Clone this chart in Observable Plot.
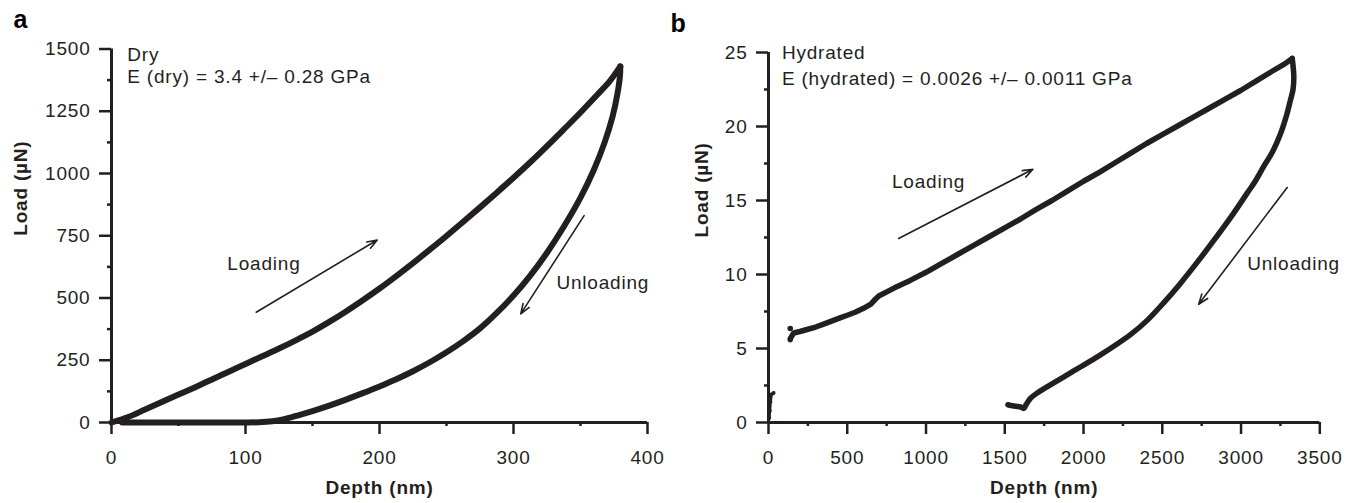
<!DOCTYPE html>
<html><head><meta charset="utf-8">
<script src="https://cdn.jsdelivr.net/npm/d3@7"></script>
<script src="https://cdn.jsdelivr.net/npm/@observablehq/plot@0.6"></script>
<style>
body{margin:0;background:#fff;}
#wrap{display:flex;width:1360px;height:503px;overflow:hidden;}
</style></head><body><div id="wrap"></div>
<script>
// ---------- Panel a: dry ----------
const dryLoadDepth  = [0, 12.5, 25, 37.5, 50, 62.5, 75, 87.5, 100, 112.5, 125, 137.5, 150, 162.5, 175, 187.5, 200, 212.5, 225, 237.5, 250, 262.5, 275, 287.5, 300, 312.5, 325, 337.5, 350, 362.5, 372, 379.7];
const dryLoadForce  = [0, 22, 52, 82, 112, 142, 173, 204, 235, 266, 297, 330, 365, 404, 446, 491, 538, 588, 640, 694, 749, 806, 864, 923, 983, 1045, 1110, 1177, 1245, 1316, 1372, 1430];
const dryUnloadDepth = [379.7, 379.5, 377.5, 374, 368, 360, 350, 337.5, 325, 312.5, 300, 287.5, 275, 262.5, 250, 237.5, 225, 212.5, 200, 187.5, 175, 162.5, 150, 140, 128, 120, 110, 100, 80, 50, 25, 8];
const dryUnloadForce = [1430, 1395, 1318, 1230, 1125, 1015, 903, 786, 682, 590, 510, 440, 378, 327, 282, 242, 206, 174, 145, 118, 92, 68, 46, 30, 12, 5, 1, 0, 0, 0, 0, 0];
const dryXTicks = [0, 100, 200, 300, 400];
const dryXMinor = [50, 150, 250, 350];
const dryYTicks = [0, 250, 500, 750, 1000, 1250, 1500];
const dryYMinor = [125, 375, 625, 875, 1125, 1375];

// ---------- Panel b: hydrated ----------
const hydStartDepth = [4, 8, 12, 18, 32];
const hydStartForce = [0.3, 0.8, 1.4, 1.9, 2.0];
const hydJumpDepth = [138, 138];
const hydJumpForce = [5.6, 6.35];
const hydLoadDepth = [140, 160, 200, 250, 300, 350, 400, 450, 500, 550, 600, 650, 680, 700, 800, 900, 1000, 1100, 1200, 1300, 1400, 1500, 1600, 1700, 1800, 1900, 2000, 2100, 2200, 2300, 2400, 2500, 2600, 2700, 2800, 2900, 3000, 3100, 3200, 3280, 3325];
const hydLoadForce = [5.7, 6.05, 6.15, 6.3, 6.45, 6.65, 6.85, 7.05, 7.25, 7.45, 7.7, 8.0, 8.35, 8.55, 9.1, 9.6, 10.15, 10.75, 11.35, 11.95, 12.55, 13.15, 13.75, 14.4, 15.0, 15.65, 16.3, 16.9, 17.55, 18.2, 18.85, 19.45, 20.05, 20.65, 21.25, 21.85, 22.45, 23.1, 23.75, 24.25, 24.6];
const hydUnloadDepth = [3325, 3335, 3330, 3314, 3290, 3250, 3200, 3144, 3090, 3039, 2950, 2827, 2720, 2615, 2510, 2404, 2300, 2192, 2090, 1980, 1870, 1768, 1700, 1660, 1630, 1620, 1600, 1570, 1540, 1520];
const hydUnloadForce = [24.6, 23.4, 22.5, 21.8, 20.8, 19.5, 18.3, 17.3, 16.3, 15.5, 14.1, 12.3, 10.8, 9.4, 8.1, 6.9, 5.95, 5.15, 4.45, 3.75, 3.05, 2.4, 1.95, 1.6, 1.1, 0.95, 1.05, 1.1, 1.15, 1.2];
const hydXTicks = [0, 500, 1000, 1500, 2000, 2500, 3000, 3500];
const hydXMinor = [250, 750, 1250, 1750, 2250, 2750, 3250];
const hydYTicks = [0, 5, 10, 15, 20, 25];
const hydYMinor = [2.5, 7.5, 12.5, 17.5, 22.5];

const C = "#231f20";
const FS = 19;
const zip = (xs, ys) => xs.map((x, i) => ({x, y: ys[i]}));

function axes(xT, xM, yT, yM) {
  const fmt = d => String(d);
  return [
    Plot.ruleY([0], {stroke: C, strokeWidth: 3}),
    Plot.ruleX([0], {stroke: C, strokeWidth: 3}),
    Plot.axisX({ticks: xT, tickSize: 12, tickPadding: 16, strokeWidth: 2.5, stroke: C, fill: C, tickFormat: fmt, label: null, fontSize: FS}),
    Plot.axisX({ticks: xM, tickSize: 4, strokeWidth: 2.5, stroke: C, tickFormat: () => "", label: null}),
    Plot.axisY({ticks: yT, tickSize: 12, tickPadding: 9, strokeWidth: 2.5, stroke: C, fill: C, tickFormat: fmt, label: null, fontSize: FS}),
    Plot.axisY({ticks: yM, tickSize: 4, strokeWidth: 2.5, stroke: C, tickFormat: () => "", label: null})
  ];
}

function labels(letter, ylabDx) {
  return [
    Plot.text([letter], {text: d => d, frameAnchor: "top-left", dx: -98, dy: -29, fontSize: 25, fontWeight: "bold", textAnchor: "start", lineAnchor: "middle", fill: "#000"}),
    Plot.text(["Depth (nm)"], {text: d => d, frameAnchor: "bottom", dy: 65, fontSize: FS, fontWeight: "bold", lineAnchor: "middle", fill: C}),
    Plot.text(["Load (µN)"], {text: d => d, frameAnchor: "left", dx: ylabDx, rotate: -90, fontSize: FS, fontWeight: "bold", lineAnchor: "middle", fill: C})
  ];
}

const arrowOpts = {x1: "x1", y1: "y1", x2: "x2", y2: "y2", stroke: C, strokeWidth: 1.6, headLength: 10, headAngle: 40};
const textOpts = {x: "x", y: "y", text: "t", textAnchor: "start", lineAnchor: "middle", fontSize: FS, fill: C};
const style = {fontFamily: "'Liberation Sans', Arial, sans-serif", fontSize: FS + "px", letterSpacing: "0.8px", color: C, background: "#fff", overflow: "visible"};

const a = Plot.plot({
  width: 680, height: 503,
  marginLeft: 111, marginRight: 33, marginTop: 48.5, marginBottom: 81,
  x: {domain: [0, 400]}, y: {domain: [0, 1500]},
  style,
  marks: [
    ...axes(dryXTicks, dryXMinor, dryYTicks, dryYMinor),
    Plot.line(zip(dryLoadDepth, dryLoadForce), {x: "x", y: "y", stroke: C, strokeWidth: 6, strokeLinejoin: "round", strokeLinecap: "round", curve: "catmull-rom"}),
    Plot.line(zip(dryUnloadDepth, dryUnloadForce), {x: "x", y: "y", stroke: C, strokeWidth: 6, strokeLinejoin: "round", strokeLinecap: "round", curve: "catmull-rom"}),
    Plot.arrow([{x1: 108, y1: 443, x2: 198.3, y2: 733}], arrowOpts),
    Plot.arrow([{x1: 352.7, y1: 831, x2: 305.4, y2: 436}], arrowOpts),
    Plot.text([{x: 86.4, y: 638, t: "Loading"}, {x: 332, y: 562, t: "Unloading"}], textOpts),
    Plot.text([{x: 11.8, y: 1478, t: "Dry"}, {x: 11.8, y: 1389, t: "E (dry) = 3.4 +/– 0.28 GPa"}], textOpts),
    ...labels("a", -91)
  ]
});

const b = Plot.plot({
  width: 680, height: 503,
  marginLeft: 88, marginRight: 40.7, marginTop: 52, marginBottom: 81,
  x: {domain: [0, 3500]}, y: {domain: [0, 25]},
  style,
  marks: [
    ...axes(hydXTicks, hydXMinor, hydYTicks, hydYMinor),
    Plot.line(zip(hydStartDepth, hydStartForce), {x: "x", y: "y", stroke: C, strokeWidth: 3}),
    Plot.dot(zip(hydStartDepth, hydStartForce), {x: "x", y: "y", fill: C, r: 2}),
    Plot.dot(zip(hydJumpDepth, hydJumpForce), {x: "x", y: "y", fill: C, r: 2.8}),
    Plot.line(zip(hydLoadDepth, hydLoadForce), {x: "x", y: "y", stroke: C, strokeWidth: 5.5, strokeLinejoin: "round", strokeLinecap: "round"}),
    Plot.line(zip(hydUnloadDepth, hydUnloadForce), {x: "x", y: "y", stroke: C, strokeWidth: 5.5, strokeLinejoin: "round", strokeLinecap: "round", curve: "catmull-rom"}),
    Plot.arrow([{x1: 826, y1: 12.43, x2: 1679, y2: 17.11}], arrowOpts),
    Plot.arrow([{x1: 3293, y1: 15.88, x2: 2731, y2: 7.99}], arrowOpts),
    Plot.text([{x: 784, y: 16.27, t: "Loading"}, {x: 3039, y: 10.69, t: "Unloading"}], textOpts),
    Plot.text([{x: 85, y: 24.95, t: "Hydrated"}, {x: 85, y: 23.24, t: "E (hydrated) = 0.0026 +/– 0.0011 GPa"}], textOpts),
    ...labels("b", -67)
  ]
});

document.getElementById("wrap").append(a, b);
</script></body></html>
